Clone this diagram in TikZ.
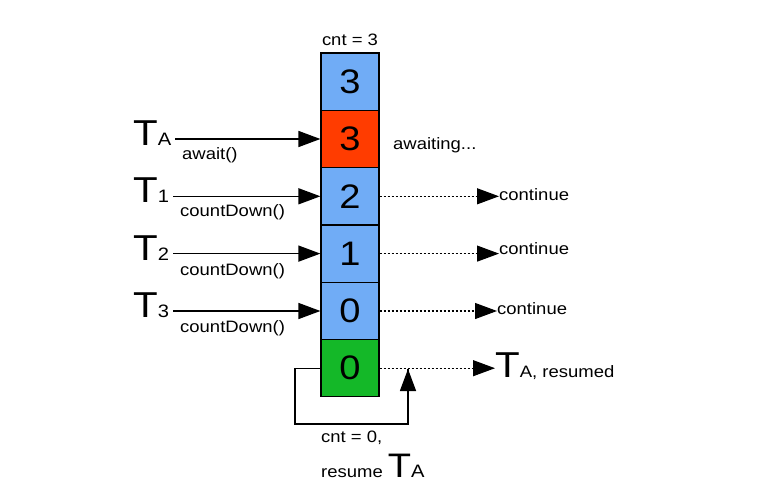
\documentclass[tikz,border=0pt]{standalone}
\usepackage{fontspec}
\setmainfont{Liberation Sans}[FakeStretch=1.12]
\usetikzlibrary{arrows.meta,calc}
\definecolor{cblue}{RGB}{112,172,246}
\definecolor{cred}{RGB}{255,60,0}
\definecolor{cgreen}{RGB}{20,184,40}
\newcommand{\bigT}{{\fontsize{36}{40}\selectfont T}}
\newcommand{\subX}[1]{{\fontsize{18}{20}\selectfont #1}}
\begin{document}
\begin{tikzpicture}[x=1pt,y=-1pt,
  cell/.style={draw=black,line width=1.2pt,minimum width=58pt,minimum height=57.3pt,inner sep=0pt,font=\fontsize{34}{36}\selectfont},
  lbl/.style={inner sep=0pt,font=\fontsize{16.5}{19}\selectfont},
  tlbl/.style={inner sep=0pt,anchor=base west},
  arr/.style={line width=1.4pt,-{Triangle[length=22pt,width=16pt]}},
  darr/.style={line width=1.1pt,dash pattern=on 2.6pt off 1.4pt,-{Triangle[length=22pt,width=16pt]}},
  loopl/.style={line width=1.4pt}]
\useasboundingbox (0,0) rectangle (779,492);
% cells
\node[cell,fill=cblue] (b0) at (350,81.7) {3};
\node[cell,fill=cred]  (b1) at (350,139) {3};
\node[cell,fill=cblue] (b2) at (350,196.3) {2};
\node[cell,fill=cblue] (b3) at (350,253.6) {1};
\node[cell,fill=cblue] (b4) at (350,311) {0};
\node[cell,fill=cgreen](b5) at (350,368.2) {0};
\node[lbl] (cnt) at (350,40) {cnt = 3};
% thread labels
\node[tlbl] (ta) at (133,146) {\bigT\subX{A}};
\node[tlbl] (t1) at (133,202) {\bigT\subX{1}};
\node[tlbl] (t2) at (133,260) {\bigT\subX{2}};
\node[tlbl] (t3) at (133,317) {\bigT\subX{3}};
% incoming arrows
\draw[arr] ($(ta.east |- b1.west)+(4,0)$) -- (b1.west);
\draw[arr] ($(t1.east |- b2.west)+(4,0)$) -- (b2.west);
\draw[arr] ($(t2.east |- b3.west)+(4,0)$) -- (b3.west);
\draw[arr] ($(t3.east |- b4.west)+(4,0)$) -- (b4.west);
% call labels
\node[lbl,anchor=west] (aw) at (182,155) {await()};
\node[lbl,anchor=west] (c1) at (180,212) {countDown()};
\node[lbl,anchor=west] (c2) at (180,271) {countDown()};
\node[lbl,anchor=west] (c3) at (180,328) {countDown()};
% right side
\node[lbl,anchor=west] (wait) at (393,145) {awaiting...};
\node[lbl,anchor=west] (k1) at (499,195) {continue};
\node[lbl,anchor=west] (k2) at (499,249) {continue};
\node[lbl,anchor=west] (k3) at (497,309) {continue};
\draw[darr] (b2.east) -- (k1.west |- b2.east);
\draw[darr] (b3.east) -- (k2.west |- b3.east);
\draw[darr] (b4.east) -- (k3.west |- b4.east);
\node[tlbl] (tr) at (495,377) {\bigT{\fontsize{16.5}{19}\selectfont A, resumed}};
\draw[darr] (b5.east) -- (tr.west |- b5.east);
% loop back
\coordinate (lp) at (408,369);
\draw[loopl] (b5.west) -| (295,424) -| (lp);
\draw[arr] (408,400) -- (lp);
\node[lbl,anchor=west] (c0) at (321,438) {cnt = 0,};
\node[tlbl] (rs) at (321,477) {{\fontsize{16.5}{19}\selectfont resume }{\fontsize{34}{38}\selectfont T}\subX{A}};
\end{tikzpicture}
\end{document}
